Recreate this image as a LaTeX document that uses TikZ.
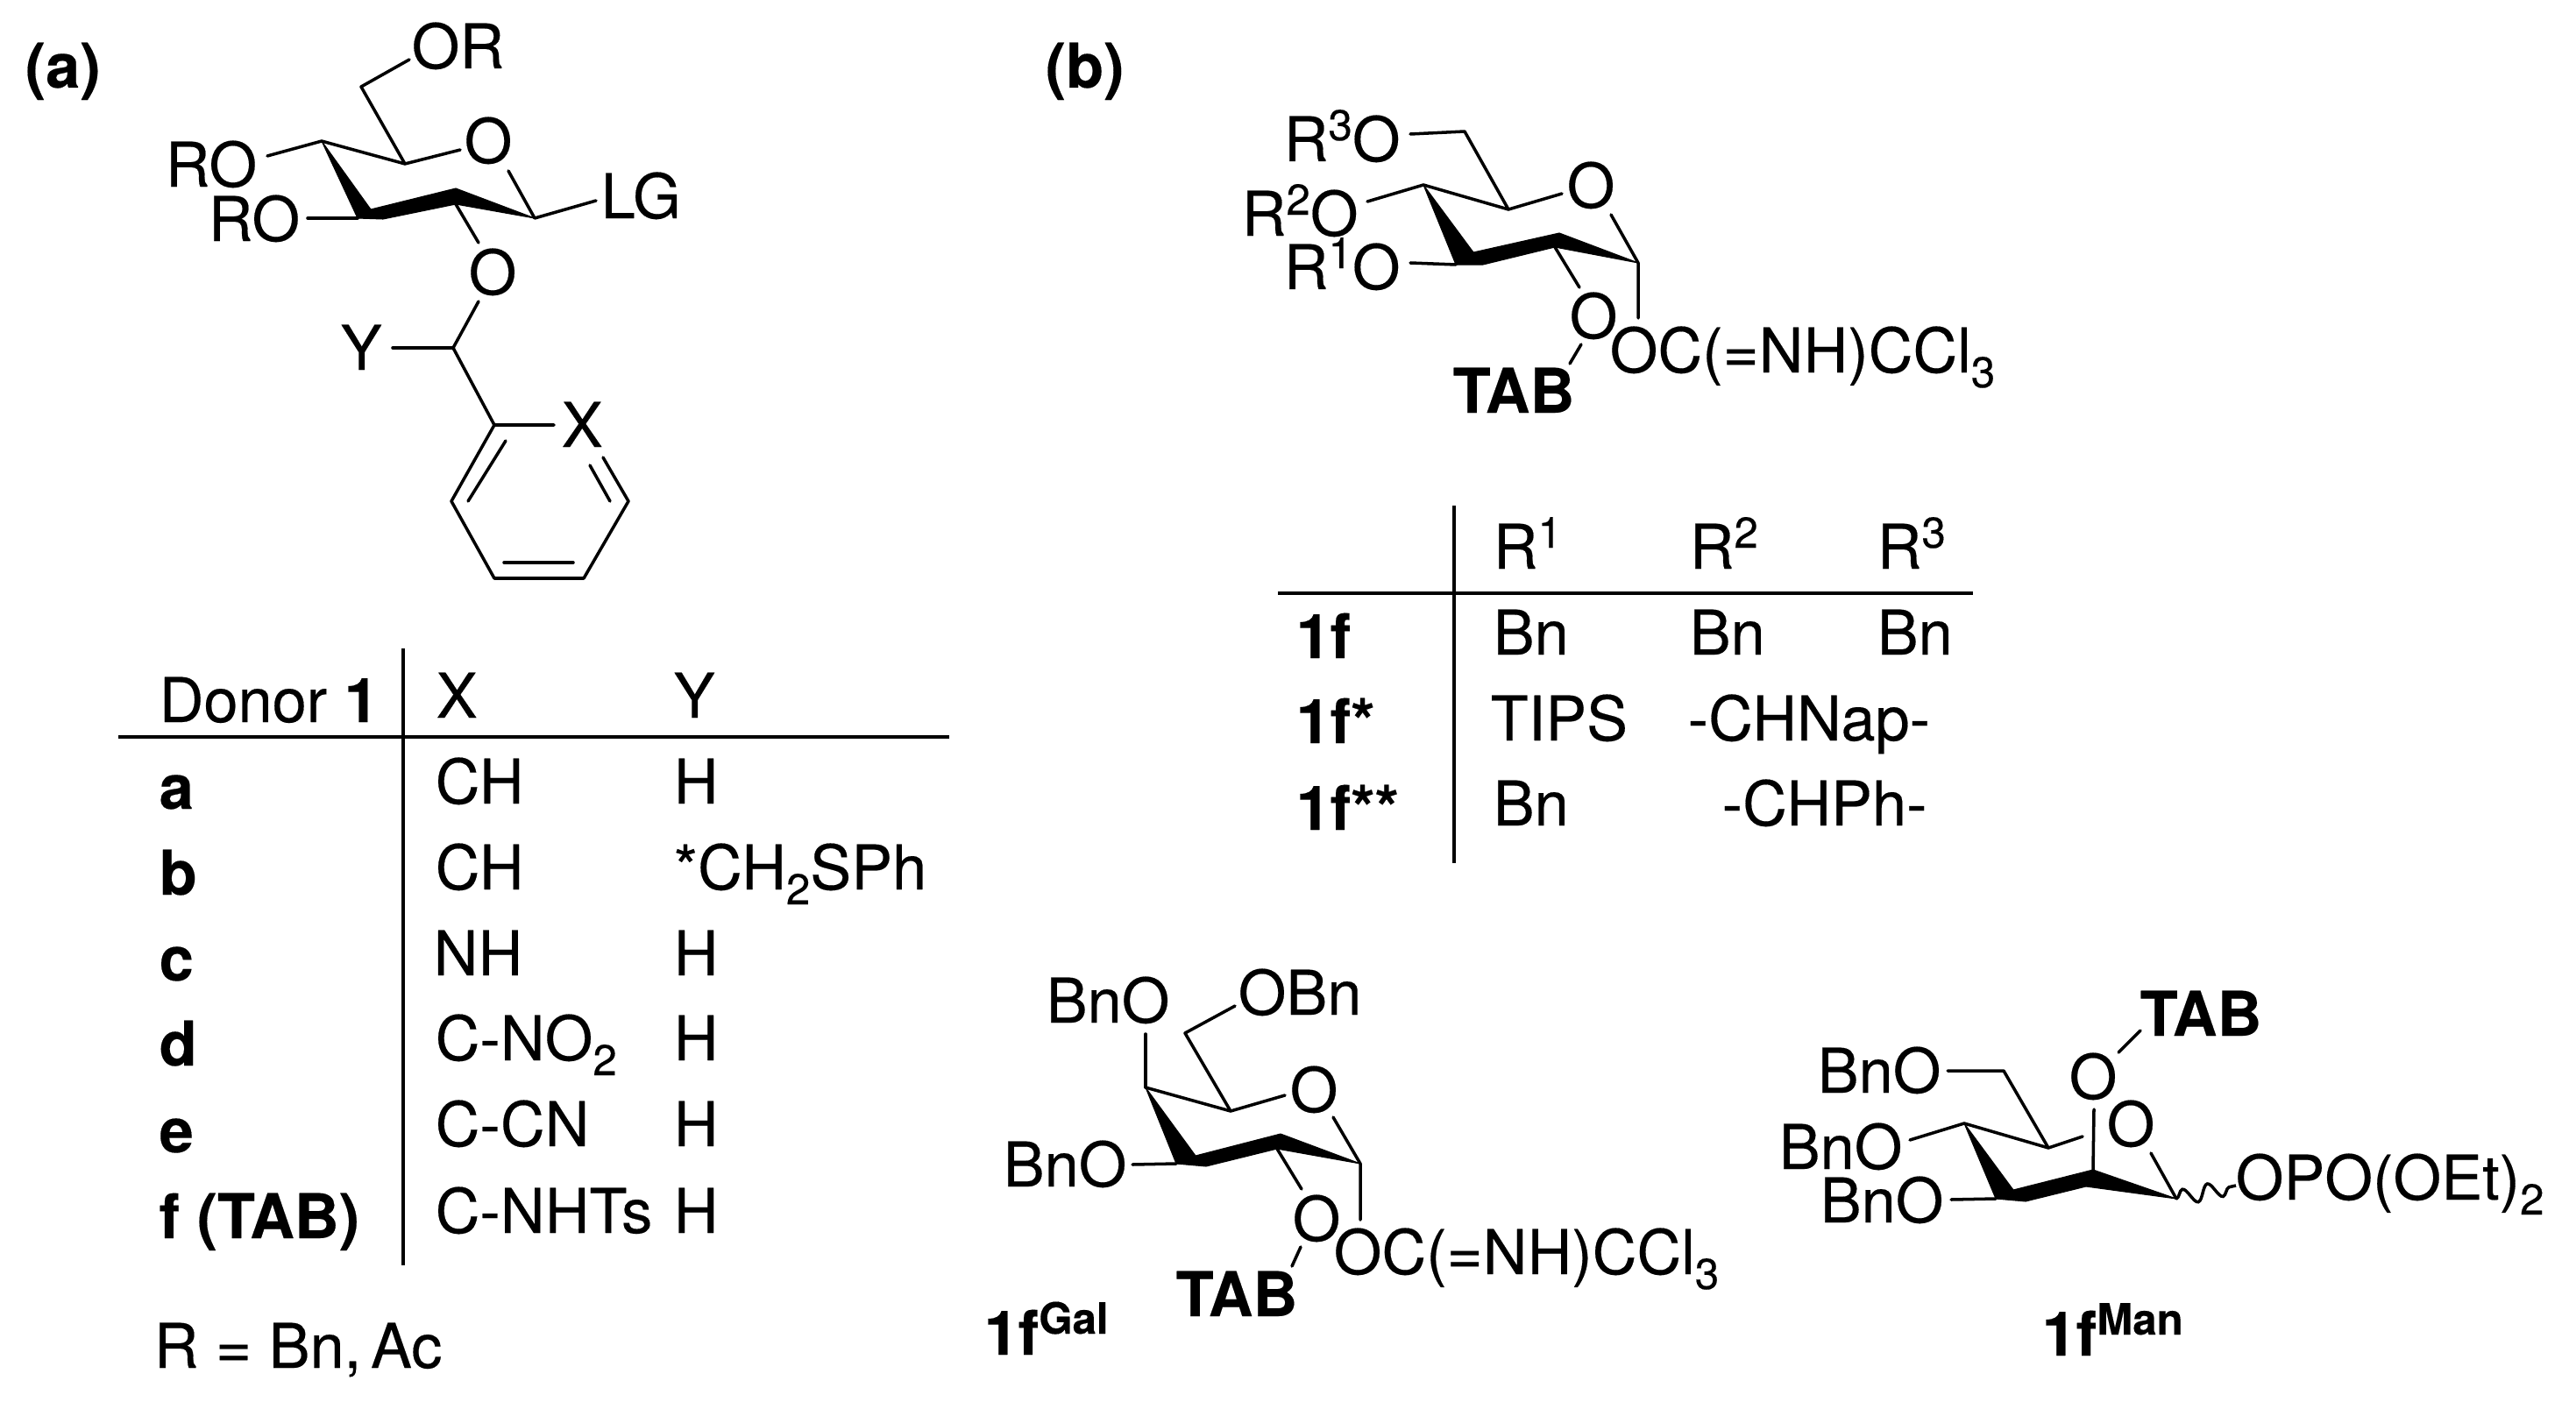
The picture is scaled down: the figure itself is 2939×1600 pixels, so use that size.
\documentclass[tikz,border=0pt]{standalone}
\usepackage{fontspec}
\setmainfont{TeX Gyre Heros}[UprightFeatures={FakeBold=0.25},BoldFeatures={FakeBold=0.25}]
\usetikzlibrary{decorations.pathmorphing}
\newcommand{\rsup}[1]{\raisebox{24\dimexpr0.01cm\relax}{\fontsize{14}{14}\selectfont #1}}
\newcommand{\rsub}[1]{\raisebox{-17\dimexpr0.01cm\relax}{\fontsize{14}{14}\selectfont #1}}

\begin{document}
\begin{tikzpicture}[x=0.01cm,y=-0.01cm]
    \tikzset{%
      lab/.style={anchor=base west, inner sep=0pt, font=\fontsize{20}{24}\selectfont},
      blab/.style={lab, font=\fontsize{20}{24}\selectfont\bfseries},
      bond/.style={line width=1pt, line cap=round, line join=round},
      rule/.style={line width=1.15pt},
      wedge/.style={fill=black, draw=black, line width=0.3pt, line join=round},
    }
    \useasboundingbox (0,0) rectangle (2939,1600);

    % (a) donor
    \node[blab] (Ha) at (28,100) {(a)};
    \node[lab] (AOR) at (469,78) {OR};
    \node[lab] (AO) at (529,186) {O};
    \node[lab] (ARO) at (188,213) {RO};
    \node[lab] (ARO2) at (237,275) {RO};
    \node[lab] (ALG) at (685,249) {LG};
    \node[lab] (AOb) at (534,336) {O};
    \node[lab] (AY) at (388,422) {Y};
    \node[lab] (AX) at (640,510) {X};
    \coordinate (A6) at (412,99);
    \coordinate (A5) at (462,187);
    \coordinate (A4) at (367,161);
    \coordinate (A3) at (408,249);
    \coordinate (A2) at (520,233);
    \coordinate (A1) at (610,249);
    \coordinate (AC) at (517,397);
    \coordinate (R1) at (564,485);
    \coordinate (R2) at (515,572);
    \coordinate (R3) at (564,660);
    \coordinate (R4) at (666,660);
    \coordinate (R5) at (717,572);
    \coordinate (Ra) at (467,68);
    \coordinate (Rb) at (525,171);
    \coordinate (Rc) at (305,178);
    \coordinate (Rd) at (351,249);
    \coordinate (Re) at (580,195);
    \coordinate (Rf) at (680,229);
    \coordinate (Rg) at (546,277);
    \coordinate (Rh) at (546,344);
    \coordinate (Ri) at (448,397);
    \coordinate (Rj) at (632,485);
    \coordinate (Rk) at (688,522);
    \coordinate (Rl) at (577,503);
    \coordinate (Rm) at (534,572);
    \coordinate (Rn) at (575,642);
    \coordinate (Ro) at (654,642);
    \coordinate (Rp) at (673,531);
    \coordinate (Rq) at (696,572);
    \fill[wedge] (A4) -- (A3) -- (437,250) -- (A2) -- (A1) -- (520,215) -- (423,239) -- cycle;
    \draw[bond] (Ra) -- (A6) -- (A5) -- (Rb);
    \draw[bond] (A4) -- (A5);
    \draw[bond] (A4) -- (Rc);
    \draw[bond] (Rd) -- (A3);
    \draw[bond] (Re) -- (A1) -- (Rf);
    \draw[bond] (A2) -- (Rg);
    \draw[bond] (Rh) -- (AC) -- (R1);
    \draw[bond] (Ri) -- (AC);
    \draw[bond] (Rj) -- (R1) -- (R2) -- (R3) -- (R4) -- (R5) -- (Rk);
    \draw[bond] (Rl) -- (Rm);
    \draw[bond] (Rn) -- (Ro);
    \draw[bond] (Rp) -- (Rq);

    % table of (a)
    \coordinate (Ta) at (460,740);
    \coordinate (Tb) at (460,1444);
    \coordinate (Tc) at (135,841);
    \coordinate (Td) at (1083,841);
    \draw[rule] (Ta) -- (Tb);
    \draw[rule] (Tc) -- (Td);
    \node[lab] (TDo) at (181,824) {Donor \textbf{1}};
    \node[lab] (TX) at (497,819) {X};
    \node[lab] (TY) at (768,819) {Y};
    \node[blab] (Ta1) at (181,923) {a};
    \node[lab] (Ta2) at (496,917) {CH};
    \node[lab] (Ta3) at (768,917) {H};
    \node[blab] (Tb1) at (181,1021) {b};
    \node[lab] (Tb2) at (496,1015) {CH};
    \node[lab] (Tb3) at (768,1015) {*CH\rsub{2}SPh};
    \node[blab] (Tc1) at (181,1119) {c};
    \node[lab] (Tc2) at (494,1113) {NH};
    \node[lab] (Tc3) at (768,1113) {H};
    \node[blab] (Td1) at (181,1216) {d};
    \node[lab] (Td2) at (496,1210) {C-NO\rsub{2}};
    \node[lab] (Td3) at (768,1210) {H};
    \node[blab] (Te1) at (181,1315) {e};
    \node[lab] (Te2) at (496,1308) {C-CN};
    \node[lab] (Te3) at (768,1308) {H};
    \node[blab] (Tf1) at (181,1413) {f (TAB)};
    \node[lab] (Tf2) at (496,1407) {C-NHTs};
    \node[lab] (Tf3) at (768,1407) {H};
    \node[lab] (TR) at (175,1561) {R = Bn,\hspace{-2.5pt} Ac};

    % (b) donor
    \node[blab] (Hb) at (1192,100) {(b)};
    \node[lab] (BR3) at (1464,184) {R\rsup{3}O};
    \node[lab] (BO) at (1787,237) {O};
    \node[lab] (BR2) at (1416,269) {R\rsup{2}O};
    \node[lab] (BR1) at (1464,330) {R\rsup{1}O};
    \node[lab] (BOb) at (1790,386) {O};
    \node[lab] (BOC) at (1836,425) {OC(=NH)CCl\rsub{3}};
    \node[blab] (BTAB) at (1657,471) {TAB};
    \coordinate (B6) at (1671,150);
    \coordinate (B5) at (1721,239);
    \coordinate (B4) at (1624,211);
    \coordinate (B3) at (1661,302);
    \coordinate (B2) at (1774,282);
    \coordinate (B1) at (1869,300);
    \coordinate (Ba) at (1609,153);
    \coordinate (Bb) at (1782,221);
    \coordinate (Bc) at (1560,230);
    \coordinate (Bd) at (1609,300);
    \coordinate (Be) at (1838,245);
    \coordinate (Bf) at (1869,363);
    \coordinate (Bg) at (1802,328);
    \coordinate (Bh) at (1804,393);
    \coordinate (Bi) at (1791,415);
    \fill[wedge] (B4) -- (B3) -- (1692,302) -- (B2) -- (B1) -- (1779,266) -- (1681,288) -- cycle;
    \draw[bond] (Ba) -- (B6) -- (B5) -- (Bb);
    \draw[bond] (B4) -- (B5);
    \draw[bond] (B4) -- (Bc);
    \draw[bond] (Bd) -- (B3);
    \draw[bond] (Be) -- (B1) -- (Bf);
    \draw[bond] (B2) -- (Bg);
    \draw[bond] (Bh) -- (Bi);

    % table of (b)
    \coordinate (Ua) at (1659,577);
    \coordinate (Ub) at (1659,985);
    \coordinate (Uc) at (1458,677);
    \coordinate (Ud) at (2251,677);
    \draw[rule] (Ua) -- (Ub);
    \draw[rule] (Uc) -- (Ud);
    \node[lab] (UR1) at (1703,649) {R\rsup{1}};
    \node[lab] (UR2) at (1927,649) {R\rsup{2}};
    \node[lab] (UR3) at (2141,649) {R\rsup{3}};
    \node[blab] (Ue1) at (1478,751) {1f};
    \node[lab] (Ue2) at (1703,747) {Bn};
    \node[lab] (Ue3) at (1927,747) {Bn};
    \node[lab] (Ue4) at (2141,747) {Bn};
    \node[blab] (Uf1) at (1478,848) {1f*};
    \node[lab] (Uf2) at (1700,845) {TIPS};
    \node[lab] (Uf3) at (1925,845) {-CHNap-};
    \node[blab] (Ug1) at (1478,947) {1f**};
    \node[lab] (Ug2) at (1703,942) {Bn};
    \node[lab] (Ug3) at (1964,942) {-CHPh-};

    % galacto
    \node[lab] (GBn) at (1193,1167) {BnO};
    \node[lab] (GOBn) at (1412,1158) {OBn};
    \node[lab] (GO) at (1471,1269) {O};
    \node[lab] (GBn2) at (1144,1354) {BnO};
    \node[lab] (GOb) at (1474,1416) {O};
    \node[lab] (GOC) at (1521,1454) {OC(=NH)CCl\rsub{3}};
    \node[blab] (GTAB) at (1341,1502) {TAB};
    \node[blab] (GN) at (1122,1546) {1f\rsup{\bfseries Gal}};
    \coordinate (G6) at (1352,1179);
    \coordinate (G5) at (1404,1268);
    \coordinate (G4) at (1307,1241);
    \coordinate (G3) at (1342,1328);
    \coordinate (G2) at (1457,1311);
    \coordinate (G1) at (1552,1328);
    \coordinate (Ga) at (1409,1148);
    \coordinate (Gb) at (1466,1250);
    \coordinate (Gc) at (1307,1180);
    \coordinate (Gd) at (1292,1329);
    \coordinate (Ge) at (1521,1275);
    \coordinate (Gf) at (1552,1392);
    \coordinate (Gg) at (1485,1357);
    \coordinate (Gh) at (1484,1423);
    \coordinate (Gi) at (1474,1445);
    \fill[wedge] (G4) -- (G3) -- (1376,1331) -- (G2) -- (G1) -- (1461,1294) -- (1364,1319) -- cycle;
    \draw[bond] (Ga) -- (G6) -- (G5) -- (Gb);
    \draw[bond] (G4) -- (G5);
    \draw[bond] (G4) -- (Gc);
    \draw[bond] (Gd) -- (G3);
    \draw[bond] (Ge) -- (G1) -- (Gf);
    \draw[bond] (G2) -- (Gg);
    \draw[bond] (Gh) -- (Gi);

    % manno
    \node[blab] (MTAB) at (2441,1182) {TAB};
    \node[lab] (MOt) at (2360,1254) {O};
    \node[lab] (MO) at (2403,1308) {O};
    \node[lab] (MBn) at (2073,1247) {BnO};
    \node[lab] (MBn2) at (2029,1334) {BnO};
    \node[lab] (MBn3) at (2076,1395) {BnO};
    \node[lab] (MOP) at (2550,1369) {OPO(OEt)\rsub{2}};
    \node[blab] (MN) at (2329,1547) {1f\rsup{\bfseries Man}};
    \coordinate (M6) at (2286,1222);
    \coordinate (M5) at (2337,1310);
    \coordinate (M4) at (2241,1282);
    \coordinate (M3) at (2277,1368);
    \coordinate (M2) at (2388,1335);
    \coordinate (M1) at (2483,1368);
    \coordinate (Ma) at (2222,1222);
    \coordinate (Mb) at (2376,1297);
    \coordinate (Mc) at (2179,1301);
    \coordinate (Md) at (2226,1369);
    \coordinate (Me) at (2454,1316);
    \coordinate (Mf) at (2551,1353);
    \coordinate (Mg) at (2389,1266);
    \coordinate (Mh) at (2417,1201);
    \coordinate (Mi) at (2442,1176);
    \fill[wedge] (M4) -- (M3) -- (2311,1371) -- (2380,1354) -- (M1) -- (M2) -- (2297,1358) -- cycle;
    \draw[bond] (Ma) -- (M6) -- (M5) -- (Mb);
    \draw[bond] (M4) -- (M5);
    \draw[bond] (M4) -- (Mc);
    \draw[bond] (Md) -- (M3);
    \draw[bond] (Me) -- (M1);
    \draw[bond] (M2) -- (Mg);
    \draw[bond] (Mh) -- (Mi);
    \draw[line width=1pt, decorate, decoration={snake, amplitude=0.9mm, segment length=2.9mm}] (M1) -- (Mf);
\end{tikzpicture}
\end{document}
